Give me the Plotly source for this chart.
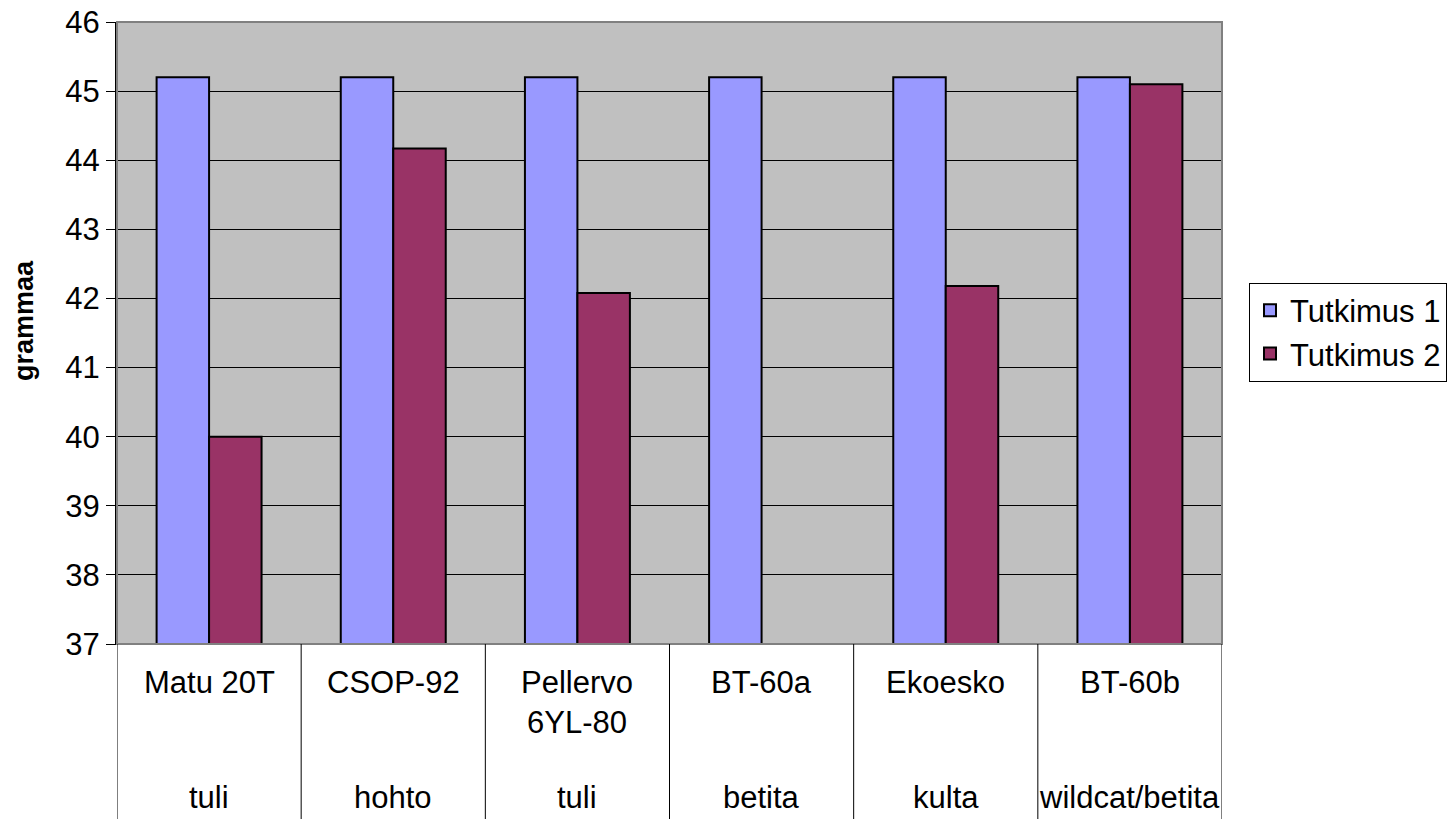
import plotly.graph_objects as go

categories = ["Matu 20T", "CSOP-92", "Pellervo<br>6YL-80", "BT-60a", "Ekoesko", "BT-60b"]
subcategories = ["tuli", "hohto", "tuli", "betita", "kulta", "wildcat/betita"]
tutkimus1 = [45.2, 45.2, 45.2, 45.2, 45.2, 45.2]
tutkimus2 = [40.0, 44.17, 42.08, None, 42.18, 45.1]
y_ticks = [37, 38, 39, 40, 41, 42, 43, 44, 45, 46]

FONT = "Liberation Sans, Arial, sans-serif"
W, H = 1456, 819
# target pixel positions in the screenshot
PL, PR, PT, PB = 117, 1222, 22, 644
L, T = PL, PT
R = W - PR
B = H - PB
pw, ph = PR - PL, PB - PT

xs = list(range(len(categories)))

fig = go.Figure()
fig.add_trace(go.Bar(x=xs, y=tutkimus1, name="Tutkimus 1",
                     marker=dict(color="#9999FF", line=dict(color="black", width=2))))
fig.add_trace(go.Bar(x=xs, y=tutkimus2, name="Tutkimus 2",
                     marker=dict(color="#993366", line=dict(color="black", width=2))))

def py(pix):
    return (PB - pix) / ph

def px(pix):
    return (pix - PL) / pw

annotations = []
for i, (c, s) in enumerate(zip(categories, subcategories)):
    annotations.append(dict(x=i, y=py(663), xref="x", yref="paper", text=c,
                            showarrow=False, yanchor="top", xanchor="center",
                            font=dict(family=FONT, size=31, color="black")))
    annotations.append(dict(x=i, y=py(797), xref="x", yref="paper", text=s,
                            showarrow=False, yanchor="middle", xanchor="center",
                            font=dict(family=FONT, size=31, color="black")))
annotations.append(dict(x=px(24), y=py(321), xref="paper", yref="paper",
                        text="<b>grammaa</b>", textangle=-90, showarrow=False,
                        xanchor="center", yanchor="middle",
                        font=dict(family=FONT, size=27, color="black")))

shapes = []
shapes.append(dict(type="rect", xref="paper", yref="paper", x0=0, x1=1, y0=0, y1=1,
                   line=dict(color="#808080", width=2), layer="above"))
for i in range(len(categories) + 1):
    shapes.append(dict(type="line", xref="x", yref="paper", x0=i - 0.5, x1=i - 0.5,
                       y0=0, y1=py(H), line=dict(color="black", width=1)))

fig.update_layout(
    width=W, height=H,
    margin=dict(l=L, r=R, t=T, b=B, pad=0, autoexpand=False),
    paper_bgcolor="white", plot_bgcolor="#C0C0C0",
    barmode="group", bargap=0.43, bargroupgap=0,
    font=dict(family=FONT, size=31, color="black"),
    showlegend=True,
    legend=dict(x=px(1249), y=py(332), xanchor="left", yanchor="middle",
                bgcolor="white", bordercolor="black", borderwidth=1,
                font=dict(family=FONT, size=31, color="black"),
                itemsizing="constant", tracegroupgap=0),
    annotations=annotations, shapes=shapes,
)
fig.update_xaxes(range=[-0.5, len(categories) - 0.5], showticklabels=False,
                 showgrid=False, zeroline=False, showline=True, linecolor="black",
                 linewidth=1, ticks="", automargin=False)
fig.update_yaxes(range=[37, 46], tickvals=y_ticks, showgrid=True, gridcolor="black",
                 gridwidth=1, zeroline=False, showline=True, linecolor="black",
                 linewidth=2, ticks="outside", ticklen=9, tickcolor="black",
                 automargin=False,
                 tickfont=dict(family=FONT, size=31, color="black"))

fig.write_html("out.html", config={"displayModeBar": False},
               post_script="document.body.style.margin='0';document.body.style.overflow='hidden';")
